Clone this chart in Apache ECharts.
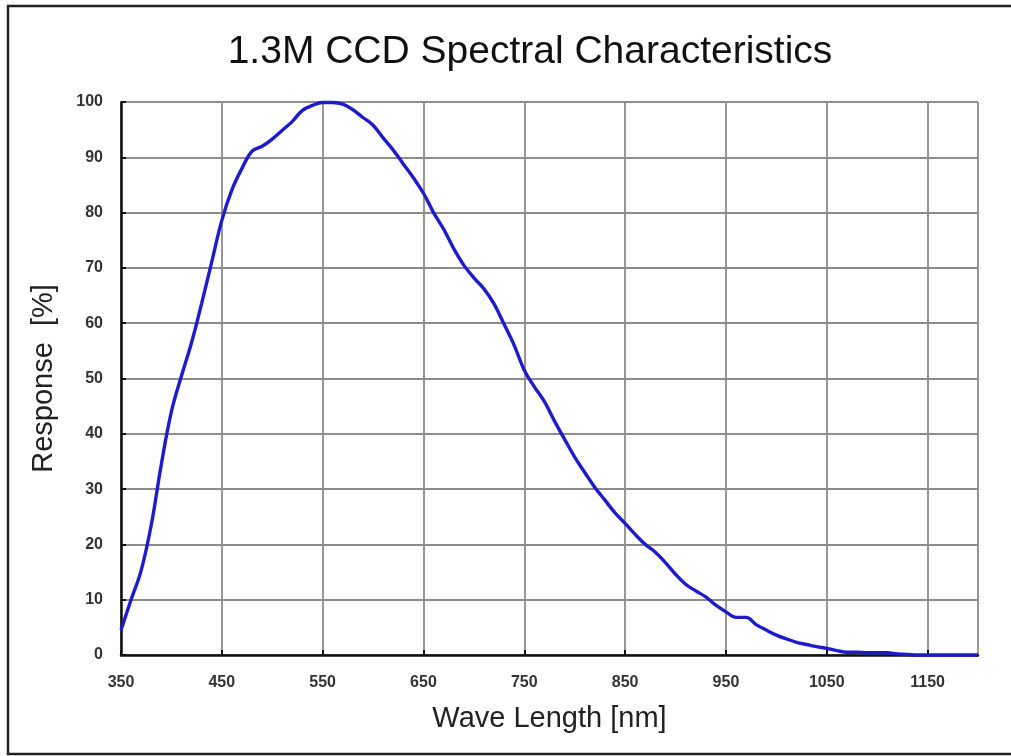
<!DOCTYPE html>
<html>
<head>
<meta charset="utf-8">
<script src="https://cdn.jsdelivr.net/npm/echarts@6/dist/echarts.min.js"></script>
<style>
html,body{margin:0;padding:0;background:#fff;}
#chart{width:1011px;height:756px;}
</style>
</head>
<body>
<div id="chart"></div>
<script>
// Wavelength (nm) samples and relative response (%)
const wavelengths = [350,360,370,380,390,400,410,420,430,440,450,460,470,480,490,500,510,520,530,540,550,560,570,580,590,600,610,620,630,640,650,660,670,680,690,700,710,720,730,740,750,760,770,780,790,800,810,820,830,840,850,860,870,880,890,900,910,920,930,940,950,960,970,980,990,1000,1010,1020,1030,1040,1050,1060,1070,1080,1090,1100,1110,1120,1130,1140,1150,1160,1170,1180,1190,1200];
const responses = [4.5,10,15.3,23.5,34.5,44,50.5,56.5,63.6,71.1,78.6,84.1,88,91.1,92,93.3,94.9,96.5,98.5,99.4,99.9,99.9,99.6,98.6,97.2,95.8,93.5,91.3,88.8,86.3,83.5,80,77,73.5,70.5,68.2,66.2,63.5,59.8,56,51.5,48.5,45.8,42.3,39,35.8,33,30.3,28,25.7,23.8,21.8,20,18.6,16.7,14.6,12.8,11.6,10.5,9,7.8,6.8,6.8,5.5,4.5,3.6,2.9,2.3,1.9,1.5,1.2,0.8,0.5,0.5,0.4,0.4,0.4,0.2,0.1,0,0,0,0,0,0,0];
const xTicks = [350,450,550,650,750,850,950,1050,1150];
const yTicks = [0,10,20,30,40,50,60,70,80,90,100];
const titleText = '1.3M CCD Spectral Characteristics';
const xName = 'Wave Length [nm]';
const yName = 'Response  [%]';

const chart = echarts.init(document.getElementById('chart'), null, {renderer:'canvas'});
const labelStyle = {fontSize:16, fontWeight:'bold', color:'#333', fontFamily:'Liberation Sans, sans-serif'};
chart.setOption({
  animation:false,
  backgroundColor:'#fff',
  title:{
    text:titleText, left:525, top:28, textAlign:'center',
    textStyle:{fontSize:39, fontWeight:'normal', color:'#111', fontFamily:'Liberation Sans, sans-serif'}
  },
  graphic:[{
    type:'rect', shape:{x:8, y:6, width:1020, height:748},
    style:{fill:'none', stroke:'#222', lineWidth:2.5}, silent:true
  }],
  grid:{left:121, top:102, right:33, bottom:101},
  xAxis:{
    type:'value', min:350, max:1200, interval:100,
    name:xName, nameLocation:'middle', nameGap:49,
    nameTextStyle:{fontSize:29, color:'#222', fontFamily:'Liberation Sans, sans-serif'},
    axisLine:{show:true, onZero:false, lineStyle:{color:'#111', width:2.5}},
    axisTick:{show:true, inside:true, length:5, lineStyle:{color:'#111', width:2}},
    axisLabel:{...labelStyle, margin:20, showMaxLabel:false,
      formatter:v => xTicks.includes(v) ? String(v) : ''},
    splitLine:{show:true, lineStyle:{color:'#8c8c8c', width:1.8}}
  },
  yAxis:{
    type:'value', min:0, max:100, interval:10,
    name:yName, nameLocation:'middle', nameGap:63,
    nameTextStyle:{fontSize:29, color:'#222', fontFamily:'Liberation Sans, sans-serif'},
    axisLine:{show:true, lineStyle:{color:'#111', width:2.5}},
    axisTick:{show:true, inside:true, length:5, lineStyle:{color:'#111', width:2}},
    axisLabel:{...labelStyle, margin:18, formatter:v => yTicks.includes(v) ? String(v) : ''},
    splitLine:{show:true, lineStyle:{color:'#8c8c8c', width:1.8}}
  },
  series:[{
    type:'line', data:wavelengths.map((w,i)=>[w,responses[i]]),
    showSymbol:false, smooth:0.4, clip:false,
    lineStyle:{color:'#1c1ccc', width:3.4}
  }]
});
</script>
</body>
</html>
